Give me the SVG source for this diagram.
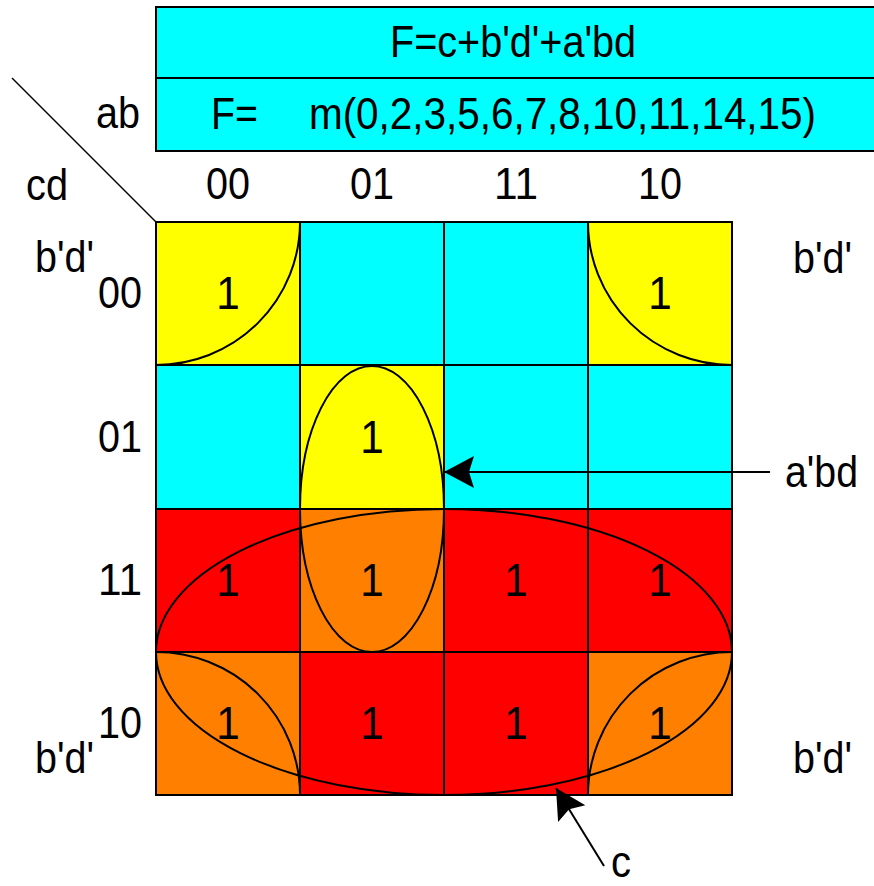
<svg xmlns="http://www.w3.org/2000/svg" width="874" height="886" viewBox="0 0 874 886">
<style>
  .t{font-family:"Liberation Sans",Arial,sans-serif;font-size:44px;fill:#000}
  .one{font-family:"Liberation Sans",Arial,sans-serif;font-size:47px;fill:#000;text-anchor:middle}
  .lbl{text-anchor:middle}
  .cell{stroke:#000;stroke-width:2}
  .y{fill:#FFFF00}.c{fill:#00FFFF}.r{fill:#FF0000}.o{fill:#FF8000}
  .loop{fill:none;stroke:#000;stroke-width:2}
  .conn{stroke:#000;stroke-width:2;fill:none}
</style>
<defs>
  <marker id="ah" markerUnits="userSpaceOnUse" markerWidth="32" markerHeight="34" viewBox="0 0 32 34" refX="31" refY="17" orient="auto">
    <path d="M31,17 L1,1 L6,17 L1,33 Z" fill="#000"/>
  </marker>
</defs>
<rect width="874" height="886" fill="#fff"/>

<g id="header">
  <rect x="156" y="7" width="730" height="144" fill="#00FFFF" stroke="#000" stroke-width="2"/>
  <line x1="156" y1="78" x2="886" y2="78" stroke="#000" stroke-width="2"/>
  <text class="t" x="390" y="57" textLength="246" lengthAdjust="spacingAndGlyphs">F=c+b'd'+a'bd</text>
  <text class="t" x="211" y="129" textLength="47" lengthAdjust="spacingAndGlyphs">F=</text>
  <text class="t" x="309" y="129" textLength="507" lengthAdjust="spacingAndGlyphs">m(0,2,3,5,6,7,8,10,11,14,15)</text>
</g>

<g id="axis">
  <line x1="12" y1="78" x2="156" y2="222" stroke="#000" stroke-width="1.5"/>
  <text class="t" x="96" y="128" textLength="44" lengthAdjust="spacingAndGlyphs">ab</text>
  <text class="t" x="26" y="200" textLength="42" lengthAdjust="spacingAndGlyphs">cd</text>
  <text class="t lbl" x="228" y="199" textLength="44" lengthAdjust="spacingAndGlyphs">00</text>
  <text class="t lbl" x="372" y="199" textLength="44" lengthAdjust="spacingAndGlyphs">01</text>
  <text class="t lbl" x="516" y="199" textLength="44" lengthAdjust="spacingAndGlyphs">11</text>
  <text class="t lbl" x="660" y="199" textLength="44" lengthAdjust="spacingAndGlyphs">10</text>
  <text class="t lbl" x="120" y="308" textLength="44" lengthAdjust="spacingAndGlyphs">00</text>
  <text class="t lbl" x="120" y="452" textLength="44" lengthAdjust="spacingAndGlyphs">01</text>
  <text class="t lbl" x="120" y="595" textLength="44" lengthAdjust="spacingAndGlyphs">11</text>
  <text class="t lbl" x="120" y="738" textLength="44" lengthAdjust="spacingAndGlyphs">10</text>
</g>

<g id="cells">
  <g id="m0"><rect class="cell y" x="156" y="222" width="144" height="143"/><text class="one" x="228" y="309" textLength="23.5" lengthAdjust="spacingAndGlyphs">1</text></g>
  <g id="m4"><rect class="cell c" x="300" y="222" width="144" height="143"/></g>
  <g id="m12"><rect class="cell c" x="444" y="222" width="144" height="143"/></g>
  <g id="m8"><rect class="cell y" x="588" y="222" width="144" height="143"/><text class="one" x="660" y="309" textLength="23.5" lengthAdjust="spacingAndGlyphs">1</text></g>

  <g id="m1"><rect class="cell c" x="156" y="365" width="144" height="144"/></g>
  <g id="m5"><rect class="cell y" x="300" y="365" width="144" height="144"/><text class="one" x="372" y="453" textLength="23.5" lengthAdjust="spacingAndGlyphs">1</text></g>
  <g id="m13"><rect class="cell c" x="444" y="365" width="144" height="144"/></g>
  <g id="m9"><rect class="cell c" x="588" y="365" width="144" height="144"/></g>

  <g id="m3"><rect class="cell r" x="156" y="509" width="144" height="143"/><text class="one" x="228" y="596" textLength="23.5" lengthAdjust="spacingAndGlyphs">1</text></g>
  <g id="m7"><rect class="cell o" x="300" y="509" width="144" height="143"/><text class="one" x="372" y="596" textLength="23.5" lengthAdjust="spacingAndGlyphs">1</text></g>
  <g id="m15"><rect class="cell r" x="444" y="509" width="144" height="143"/><text class="one" x="516" y="596" textLength="23.5" lengthAdjust="spacingAndGlyphs">1</text></g>
  <g id="m11"><rect class="cell r" x="588" y="509" width="144" height="143"/><text class="one" x="660" y="596" textLength="23.5" lengthAdjust="spacingAndGlyphs">1</text></g>

  <g id="m2"><rect class="cell o" x="156" y="652" width="144" height="143"/><text class="one" x="228" y="739" textLength="23.5" lengthAdjust="spacingAndGlyphs">1</text></g>
  <g id="m6"><rect class="cell r" x="300" y="652" width="144" height="143"/><text class="one" x="372" y="739" textLength="23.5" lengthAdjust="spacingAndGlyphs">1</text></g>
  <g id="m14"><rect class="cell r" x="444" y="652" width="144" height="143"/><text class="one" x="516" y="739" textLength="23.5" lengthAdjust="spacingAndGlyphs">1</text></g>
  <g id="m10"><rect class="cell o" x="588" y="652" width="144" height="143"/><text class="one" x="660" y="739" textLength="23.5" lengthAdjust="spacingAndGlyphs">1</text></g>
</g>

<g id="groups">
  <path class="loop" d="M300,222 A144,143 0 0 1 156,365"/>
  <path class="loop" d="M588,222 A144,143 0 0 0 732,365"/>
  <path class="loop" d="M156,652 A144,143 0 0 1 300,795"/>
  <path class="loop" d="M732,652 A144,143 0 0 0 588,795"/>
  <ellipse class="loop" cx="372" cy="509" rx="72" ry="143"/>
  <ellipse class="loop" cx="444" cy="652" rx="288" ry="143"/>
</g>

<g id="labels">
  <text class="t" x="35" y="272" textLength="59" lengthAdjust="spacingAndGlyphs">b'd'</text>
  <text class="t" x="793" y="273" textLength="59" lengthAdjust="spacingAndGlyphs">b'd'</text>
  <text class="t" x="35" y="773" textLength="59" lengthAdjust="spacingAndGlyphs">b'd'</text>
  <text class="t" x="793" y="773" textLength="59" lengthAdjust="spacingAndGlyphs">b'd'</text>
  <text class="t" x="785" y="487" textLength="73" lengthAdjust="spacingAndGlyphs">a'bd</text>
  <text class="t" x="611" y="877" textLength="20" lengthAdjust="spacingAndGlyphs">c</text>
</g>

<g id="connectors">
  <line class="conn" x1="604" y1="866" x2="556" y2="788" marker-end="url(#ah)"/>
  <line class="conn" x1="770" y1="472" x2="444" y2="472" marker-end="url(#ah)"/>
</g>
</svg>
